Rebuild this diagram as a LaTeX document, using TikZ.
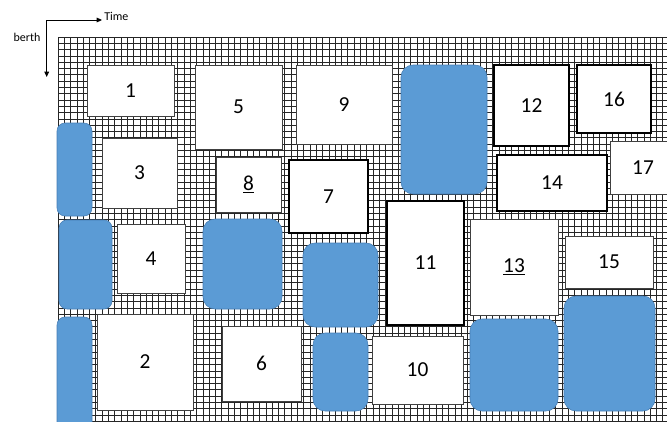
\documentclass[tikz,border=0pt]{standalone}
\usepackage{fontspec}
\setmainfont{Carlito}
\usetikzlibrary{arrows.meta}
\definecolor{slotblue}{RGB}{91,155,213}
\definecolor{slotedge}{RGB}{70,125,180}

\begin{document}
\begin{tikzpicture}[x=0.75pt, y=-0.75pt,
    sz/.style 2 args={minimum width=#1*0.75pt, minimum height=#2*0.75pt},
    vessel/.style={draw=black!75, line width=0.6pt, fill=white, inner sep=0pt, outer sep=0pt, font=\fontsize{16}{19}\selectfont},
    heavy/.style={draw=black, line width=0.8pt},
    idle/.style={draw=slotedge, line width=0.4pt, fill=slotblue, rounded corners=9pt, inner sep=0pt, outer sep=0pt},
    narrow/.style={rounded corners=6pt},
    gridline/.style={line width=0.5pt, black!85},
    axis/.style={-{Triangle[length=4pt,width=3.5pt]}, line width=0.7pt},
    axislabel/.style={font=\fontsize{9}{11}\selectfont, inner sep=1.5pt}
]
\useasboundingbox (0,0) rectangle (667,421);

% Axes
\coordinate (origin) at (46.7,20);
\coordinate (berthend) at (46.7,77);
\node[axislabel, anchor=base west] (time) at (102,20) {Time};
\node[axislabel] (berth) at (27,37) {berth};
\draw[axis] (origin) -- (time.base west);
\draw[axis] (origin) -- (berthend);

% Berth-time grid
\begin{scope}
  \clip (58,37) rectangle (667,421);
  \foreach \i in {0,...,97}
    \draw[gridline] (58+6.3*\i,37) -- (58+6.3*\i,421);
  \foreach \j in {0,...,61}
    \draw[gridline] (58,37+6.3*\j) -- (667,37+6.3*\j);
\end{scope}

% Idle periods
\node[idle, sz={86}{129}] (idleA) at (444,129.5) {};
\node[idle, narrow, sz={35}{93}] (idleB) at (74.5,169.5) {};
\node[idle, narrow, sz={53}{89}] (idleC) at (85.5,264.5) {};
\node[idle, narrow, sz={35}{113}] (idleD) at (74.5,373.5) {};
\node[idle, sz={79}{90}] (idleE) at (242.5,264) {};
\node[idle, sz={75}{84}] (idleF) at (340.5,285) {};
\node[idle, sz={55}{78}] (idleG) at (340.5,372) {};
\node[idle, sz={88}{92}] (idleH) at (514,365) {};
\node[idle, sz={91}{115}] (idleI) at (609.5,353.5) {};

% Vessels
\node[vessel, sz={87}{51}] (v1) at (130.5,90.5) {1};
\node[vessel, sz={96}{96}] (v2) at (145,362) {2};
\node[vessel, sz={75}{70}] (v3) at (139.5,173) {3};
\node[vessel, sz={68}{69}] (v4) at (151,258.5) {4};
\node[vessel, sz={87}{84}] (v5) at (238.5,107) {5};
\node[vessel, sz={79}{75}] (v6) at (261.5,363.5) {6};
\node[vessel, heavy, sz={79}{73}] (v7) at (328.5,196.5) {7};
\node[vessel, sz={65}{55}] (v8) at (248.5,184.5) {\underline{8}};
\node[vessel, sz={96}{79}] (v9) at (344,104.5) {9};
\node[vessel, sz={91}{68}] (v10) at (417.5,370) {10};
\node[vessel, heavy, sz={77}{124}] (v11) at (425.5,263) {11};
\node[vessel, heavy, sz={75}{81}] (v12) at (531.5,105.5) {12};
\node[vessel, sz={88}{96}] (v13) at (514,267) {\underline{13}};
\node[vessel, heavy, sz={110}{56}] (v14) at (552,183) {14};
\node[vessel, sz={88}{52}] (v15) at (609,262) {15};
\node[vessel, heavy, sz={74}{68}] (v16) at (614,99) {16};
\node[vessel, sz={66}{53}] (v17) at (643,167.5) {17};

\end{tikzpicture}
\end{document}
